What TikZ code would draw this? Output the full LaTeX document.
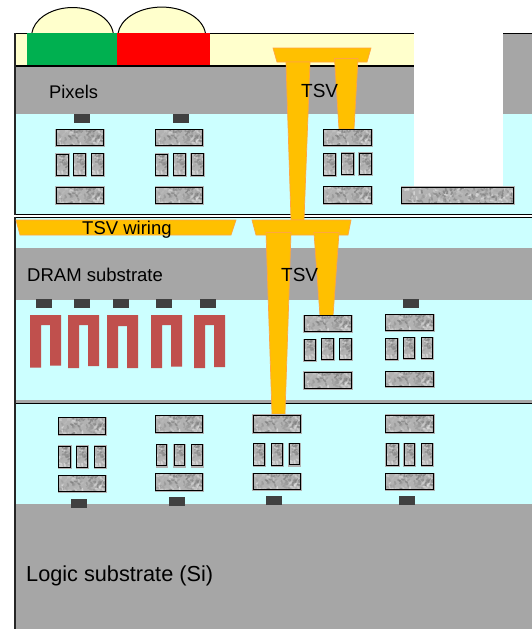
\documentclass[tikz,border=0pt]{standalone}
\usepackage{fontspec}
\setmainfont{Liberation Sans}
\definecolor{grayS}{HTML}{A6A6A6}
\definecolor{cyanL}{HTML}{CCFFFF}
\definecolor{yellowL}{HTML}{FFFFCC}
\definecolor{greenP}{HTML}{00B050}
\definecolor{redP}{HTML}{FF0000}
\definecolor{tsvF}{HTML}{FFC000}
\definecolor{tsvD}{HTML}{FFA640}
\definecolor{padD}{HTML}{404040}
\definecolor{capR}{HTML}{C0504D}
\tikzset{
  wire/.style={fill=tsvF,draw=tsvD,line width=0.7pt},
  lens/.style={fill=yellowL,draw=black,line width=1pt},
  rule/.style={draw=black,line width=1.3pt},
  siderule/.style={draw=black!85,line width=2pt},
  padbox/.style={fill=padD,draw=none},
  capbox/.style={fill=capR,draw=none},
  label/.style={inner sep=0pt,anchor=base west,text=black}
}
\newcommand{\metalbox}[4]{%
  \fill[black!30] (#1-0.7,#2-0.7) rectangle (#3+1.7,#4+1.7);
  \begin{scope}
    \clip (#1,#2) rectangle (#3,#4);
    \fill[black!30] (#1,#2) rectangle (#3,#4);
    \pgfmathsetseed{4711}
    \pgfmathtruncatemacro\nstroke{(#3-#1)*(#4-#2)/7}
    \foreach \i in {1,...,\nstroke}{
      \pgfmathsetmacro\sx{#1+rnd*(#3-#1)}
      \pgfmathsetmacro\sy{#2+rnd*(#4-#2)}
      \pgfmathsetmacro\sa{rnd*360}
      \pgfmathtruncatemacro\sg{8+rnd*50}
      \draw[black!\sg,opacity=0.6,line width=1.7pt,line cap=round] (\sx,\sy) -- ++(\sa:2.5);
    }
  \end{scope}
  \draw[black,line width=0.9pt] (#1,#2) rectangle (#3,#4);
}
\begin{document}
\begin{tikzpicture}[x=1pt,y=-1pt]
\useasboundingbox (0,0) rectangle (532,629);
\fill[white] (0,0) rectangle (532,629);
% lenses
\draw[lens] (113.3,33.5) arc[start angle=6,end angle=174,x radius=41pt,y radius=29pt];
\draw[lens] (205.5,33.5) arc[start angle=6,end angle=174,x radius=44pt,y radius=29.5pt];
% layers
\fill[yellowL] (14,33) rectangle (414,66);
\fill[grayS] (15,66) rectangle (414,114);
\fill[grayS] (503,33) rectangle (532,114);
\fill[cyanL] (15,114) rectangle (532,215);
\fill[cyanL] (15,217) rectangle (532,248);
\fill[grayS] (15,248) rectangle (532,300);
\fill[cyanL] (15,300) rectangle (532,401);
\fill[grayS] (15,400) rectangle (532,403);
\fill[cyanL] (15,404) rectangle (532,504);
\fill[grayS] (15,504) rectangle (532,629);
\fill[white] (414,33) rectangle (503,187);
% rules
\draw[rule] (14,33.5) -- (414,33.5);
\draw[rule] (503,33.5) -- (532,33.5);
\draw[rule] (14,66) -- (414,66);
\draw[rule] (15,214.8) -- (532,214.8);
\draw[rule] (14.5,217.2) -- (532,217.2);
\draw[rule] (14,403.5) -- (532,403.5);
\draw[siderule] (14.5,33) -- (14.5,66);
\draw[siderule] (15.3,66) -- (15.3,215);
\draw[siderule] (14.8,217) -- (14.8,403.5);
\draw[siderule] (14.5,403) -- (14.5,629);
% colour filters
\fill[greenP] (27,33) rectangle (117,65);
\fill[redP] (117,33) rectangle (210,65);
% TSVs
\draw[wire] (273,48) -- (371,48) -- (367,62) -- (277,62) -- cycle;
\draw[wire] (286,62) -- (310,62) -- (304,220) -- (291,220) -- cycle;
\draw[wire] (334.5,58.5) -- (358,58.5) -- (354,129) -- (339,129) -- cycle;
\draw[wire] (16,220) -- (236,220) -- (231,235) -- (20,235) -- cycle;
\draw[wire] (252,220) -- (351,220) -- (348,235) -- (256,235) -- cycle;
\draw[wire] (266,232.5) -- (291,232.5) -- (285,414) -- (272,414) -- cycle;
\draw[wire] (314,232.5) -- (339,232.5) -- (333,316) -- (320,316) -- cycle;
% contact pads
\foreach \x/\y in {74/114,173/114,36/299,74/299,113/299,156/299,200/299,403/299,71/498.7,169/496.7,266/495.7,399/495.7}
  \fill[padbox] (\x,\y) rectangle (\x+16,\y+9);
% DRAM capacitors
\fill[capbox] (30,315) -- (61,315) -- (61,365.7) -- (50,365.7) -- (50,325) -- (41,325) -- (41,367.7) -- (30,367.7) -- cycle;
\fill[capbox] (68,315) -- (99,315) -- (99,366) -- (88,366) -- (88,325) -- (79,325) -- (79,368) -- (68,368) -- cycle;
\fill[capbox] (107,315) -- (138,315) -- (138,368) -- (127,368) -- (127,326) -- (118,326) -- (118,368) -- (107,368) -- cycle;
\fill[capbox] (151,315) -- (182,315) -- (182,366.7) -- (171,366.7) -- (171,325) -- (162,325) -- (162,368) -- (151,368) -- cycle;
\fill[capbox] (194,315) -- (225,315) -- (225,367) -- (214,367) -- (214,325) -- (205,325) -- (205,368) -- (194,368) -- cycle;
% metal: pixel layer
\metalbox{56}{129.3}{103.5}{145.7}
\metalbox{56}{154}{68}{175}\metalbox{73.5}{153.5}{85.5}{175}\metalbox{91.5}{153.5}{103.5}{175}
\metalbox{56}{187}{103.5}{203.3}
\metalbox{155.3}{129.3}{202}{145.7}
\metalbox{155.3}{154}{167.3}{175}\metalbox{173.3}{153.5}{185.3}{175}\metalbox{191}{153.5}{203}{175}
\metalbox{155.3}{187}{202}{203.3}
\metalbox{323.3}{129.3}{371.3}{145}
\metalbox{323.3}{153.7}{335.3}{175}\metalbox{341.3}{153}{353.3}{174.7}\metalbox{359}{153}{371}{174.7}
\metalbox{323.3}{186.3}{371.3}{203.3}
\metalbox{401.3}{187}{513.7}{203.3}
% metal: DRAM layer
\metalbox{304}{315.3}{351}{331.3}
\metalbox{304}{339.3}{315}{360}\metalbox{321.7}{338.3}{333.7}{359.3}\metalbox{339.3}{338.3}{351}{359.3}
\metalbox{304}{372}{351}{388.3}
\metalbox{385.3}{314.3}{433}{330}
\metalbox{385.3}{338.3}{397}{359.3}\metalbox{403.3}{337.7}{414.7}{358.3}\metalbox{421.3}{337.7}{432.3}{358.3}
\metalbox{385.3}{371.3}{433}{386.7}
% metal: logic layer
\metalbox{58.4}{417.6}{105.2}{434}
\metalbox{58.7}{446.1}{70.2}{467.5}\metalbox{76.3}{446.1}{87.5}{467.5}\metalbox{94.3}{446.1}{105.2}{467.5}
\metalbox{58.4}{475.3}{105.2}{491.6}
\metalbox{155.4}{415.6}{202.6}{432.6}
\metalbox{156.4}{444.5}{166.6}{465.8}\metalbox{174}{444.5}{184.6}{465.8}\metalbox{191.4}{444.5}{202}{465.8}
\metalbox{155.4}{473.6}{202.6}{490.6}
\metalbox{253}{415}{300.3}{432}
\metalbox{253.5}{443.8}{264.3}{465.5}\metalbox{271.5}{443.8}{282.3}{465.5}\metalbox{289}{443.8}{299.6}{464.8}
\metalbox{253}{473.6}{300.3}{489.6}
\metalbox{385.5}{415}{433.3}{432}
\metalbox{386}{443.8}{398}{465.5}\metalbox{404}{443.8}{414.7}{465.5}\metalbox{421.5}{443.8}{432.6}{465}
\metalbox{385.5}{473.6}{433.3}{489.6}
% labels
\node[label,font=\fontsize{18.3}{20}\selectfont] (pixels) at (49,98) {Pixels};
\node[label,font=\fontsize{19}{21}\selectfont] (tsvtop) at (301,97) {TSV};
\node[label,font=\fontsize{18.5}{21}\selectfont] (wiring) at (82,234.5) {TSV wiring};
\node[label,font=\fontsize{18.5}{21}\selectfont] (dram) at (27,281) {DRAM substrate};
\node[label,font=\fontsize{19}{21}\selectfont] (tsvmid) at (281,281.5) {TSV};
\node[label,font=\fontsize{21.7}{24}\selectfont] (logic) at (26,581) {Logic substrate (Si)};
\end{tikzpicture}
\end{document}
